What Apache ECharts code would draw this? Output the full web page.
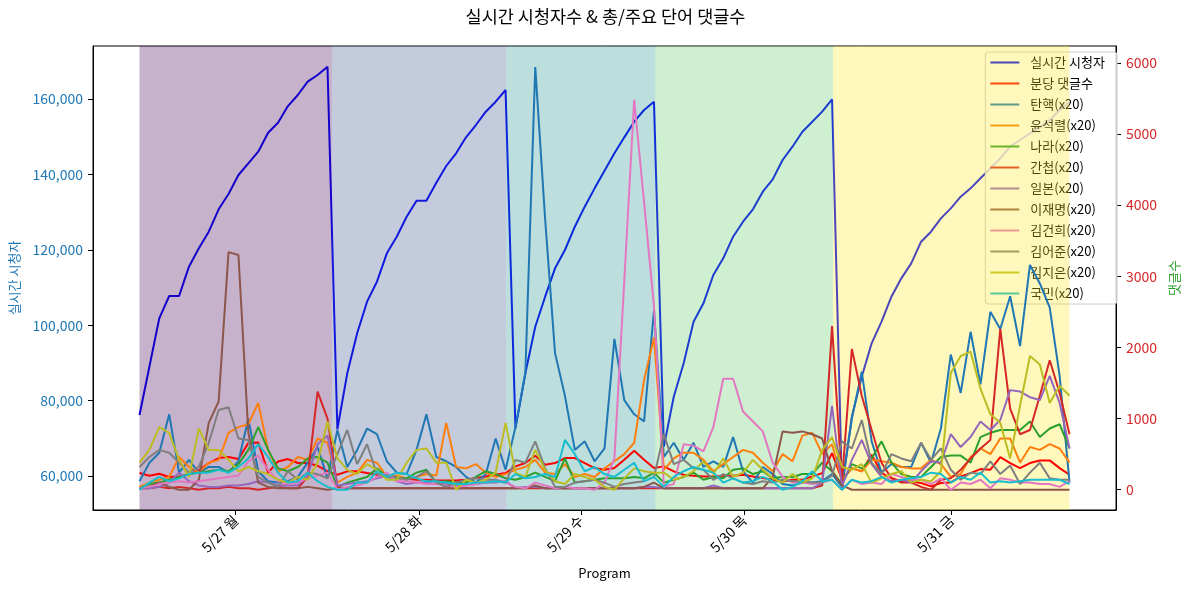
<!DOCTYPE html>
<html><head><meta charset="utf-8">
<script src="https://cdn.jsdelivr.net/npm/echarts@6/dist/echarts.min.js"></script>
<style>html,body{margin:0;padding:0;background:#fff;}#chart{width:1189px;height:593px;}</style>
</head><body><div id="chart"></div>
<script>
// ---- data ----
const dayLabels = ['5/27 월', '5/28 화', '5/29 수', '5/30 목', '5/31 금'];
const dayEdges = [0, 19.45, 37.07, 52.14, 70.1, 94];
const bandColors = ['rgba(68,1,84,0.3)', 'rgba(59,82,139,0.3)', 'rgba(33,145,140,0.3)', 'rgba(94,201,98,0.3)', 'rgba(253,231,37,0.3)'];

const viewers = [
76180,88960,101830,107750,107750,115520,120400,124800,130740,134800,139840,142950,146030,151060,153710,158120,161060,164590,166360,168570,
72390,87240,97850,106240,111540,119060,123480,128780,133030,133030,137800,142230,145590,149830,153100,156640,159290,162390,
72650,87240,99600,107560,115080,119950,126130,131440,136300,140980,145590,149830,153980,157080,159290,
67780,81030,89890,100930,105800,113310,117730,123480,127460,130740,135410,138690,143820,147350,151330,153980,156640,159920,
56730,75730,86340,95190,100930,107560,112430,116410,122150,124800,128340,130990,134090,136300,138960,141610,144270,147350,149120,150890,152480,154430,157080,159290];

const commentsPerMin = [
234,197,225,178,187,211,272,375,445,459,431,656,665,240,398,431,375,375,337,258,
211,258,258,234,211,178,164,155,140,140,131,131,131,140,164,187,211,234,
328,375,478,351,375,445,445,375,304,281,304,421,548,421,304,
328,258,211,197,187,187,197,197,211,187,164,140,117,140,140,187,234,515,
140,304,258,492,234,164,117,117,94,47,94,103,187,234,290,281,459,375,304,375,412,412,304,211];

const kw탄핵 = [
6,19,26,53,12,21,12,16,16,12,20,50,13,6,5,6,9,19,30,8,
42,16,28,43,39,20,12,11,28,53,23,20,16,9,5,11,36,14,
44,82,297,190,96,66,28,34,20,29,106,63,53,48,126,
23,33,21,33,16,20,16,37,13,5,16,11,4,3,5,5,6,11,
2,50,83,34,12,18,16,16,33,19,43,95,68,111,74,125,113,136,101,158,145,128,80,5];
const kw윤석렬 = [
2,5,7,9,23,16,12,19,21,40,44,46,61,28,13,16,23,21,36,33,
5,9,12,21,19,9,10,8,9,11,10,47,16,15,18,12,9,11,
14,16,21,12,11,18,9,11,9,15,20,25,33,77,107,
14,22,26,26,21,13,18,23,28,26,19,13,25,20,38,40,25,32,
7,15,13,21,20,19,16,15,15,21,18,9,11,23,29,25,36,36,19,30,28,32,29,19];
const kw나라 = [
1,4,5,7,9,11,12,13,14,13,18,28,44,28,15,13,16,22,23,19,
2,5,7,9,15,9,8,8,12,14,5,6,5,5,9,13,11,8,
7,9,12,9,6,22,5,6,7,8,8,8,9,8,12,
5,7,9,12,7,9,8,14,15,11,13,8,9,9,11,11,19,13,
4,18,15,22,34,19,11,9,9,16,23,24,24,19,37,40,42,42,42,48,37,43,46,29];
const kw간첩 = [
1,1,2,1,2,1,0,1,1,2,1,1,0,1,2,1,1,9,69,50,
2,1,1,1,1,1,1,1,1,1,1,1,1,1,1,1,1,1,
1,1,1,1,1,1,1,1,1,1,1,1,1,1,1,
1,1,1,1,1,1,1,1,1,1,1,1,1,1,1,1,3,115,
5,99,66,42,19,8,5,5,2,0,7,8,14,22,29,35,113,57,39,42,66,91,68,39];
const kw일본 = [
1,1,2,5,12,6,3,2,2,3,3,4,6,5,3,3,3,10,32,38,
3,4,5,6,8,10,6,4,5,5,4,4,3,3,4,5,5,6,
1,2,2,1,1,1,1,1,1,1,1,1,1,2,2,
1,1,1,1,1,3,1,1,1,1,1,1,1,1,1,1,5,59,
2,21,35,18,9,6,7,5,13,20,19,39,30,37,48,42,49,70,69,65,63,80,61,29];
const kw이재명 = [
1,2,5,2,0,0,7,47,62,167,165,40,5,2,1,1,1,2,1,0,
1,1,1,1,1,1,1,1,1,1,1,1,1,1,1,1,1,1,
1,1,3,1,1,1,1,1,1,1,1,1,1,2,5,
1,1,1,1,1,1,1,1,1,1,1,9,41,40,41,39,36,13,
3,0,0,0,0,0,0,0,0,0,0,0,0,0,0,0,0,0,0,0,0,0,0,0];
const kw김건희 = [
1,2,4,5,6,5,6,7,8,9,10,20,24,14,6,4,5,8,10,12,
0,2,3,5,9,12,6,6,5,4,4,3,2,3,4,5,6,5,
2,1,5,3,1,2,1,1,0,5,22,147,274,202,129,
2,4,32,31,27,44,78,78,55,48,41,19,9,5,5,4,5,7,
0,7,4,5,4,11,9,7,7,4,8,0,5,4,7,1,8,7,5,5,4,4,2,6];
const kw김어준 = [
16,23,28,26,19,12,16,33,56,58,36,35,9,5,2,13,7,12,11,8,
25,42,18,32,11,10,9,7,9,13,5,2,5,7,8,7,7,5,
21,19,34,15,2,2,5,6,7,5,2,4,5,6,9,
39,18,21,15,14,7,11,8,5,4,6,5,7,6,6,5,5,10,
34,29,49,19,11,25,22,20,33,21,29,14,7,12,11,20,11,17,4,12,19,8,7,7];
const kw김지은 = [
19,28,44,40,21,9,43,28,28,21,13,16,13,11,7,5,9,7,19,48,
22,14,11,18,14,7,7,19,28,29,19,19,0,7,5,7,12,47,
12,9,28,14,6,4,11,9,7,2,0,8,15,13,12,
12,7,9,13,20,11,22,9,12,21,14,8,5,11,5,8,28,37,
16,14,18,5,8,11,13,5,7,6,13,82,94,97,71,53,47,22,59,94,88,61,73,66];
const kw국민 = [
0,5,9,6,8,11,12,12,14,12,16,22,32,23,12,5,6,12,6,2,
0,0,5,5,13,9,12,11,8,6,6,5,4,4,5,5,6,5,
11,8,9,11,9,35,25,13,16,11,9,14,19,6,9,
2,9,13,16,14,12,5,8,5,6,9,6,0,2,6,13,6,7,
0,7,5,6,9,5,7,8,9,12,11,5,9,7,12,5,6,5,6,7,7,7,7,4];

const keywordNames = ['탄핵','윤석렬','나라','간첩','일본','이재명','김건희','김어준','김지은','국민'];
const keywordData = [kw탄핵, kw윤석렬, kw나라, kw간첩, kw일본, kw이재명, kw김건희, kw김어준, kw김지은, kw국민];
const keywordScale = 20;
const leftTicks = [60000, 80000, 100000, 120000, 140000, 160000];
const rightTicks = [0, 1000, 2000, 3000, 4000, 5000, 6000];

// ---- chart ----
const FONT = "'Noto Sans CJK KR', 'Noto Sans', sans-serif";
const tab10 = ['#1f77b4','#ff7f0e','#2ca02c','#d62728','#9467bd','#8c564b','#e377c2','#7f7f7f','#bcbd22','#17becf'];
const dayMids = dayLabels.map((_, i) => (dayEdges[i] + dayEdges[i + 1]) / 2);
const lastIdx = viewers.length - 1;
const xpad = lastIdx * 0.05;
const pairs = arr => arr.map((v, i) => [i, v]);
const LW = 2;

const series = [];
series.push({
  name: '실시간 시청자', type: 'line', yAxisIndex: 0, z: 2,
  data: pairs(viewers), symbol: 'none', showSymbol: false,
  lineStyle: { width: LW, color: '#0000ff' }, itemStyle: { color: '#0000ff' }
});
series.push({
  name: '_bands', type: 'custom', yAxisIndex: 1, z: 4, silent: true, clip: true,
  data: dayLabels.map((_, i) => [dayEdges[i], dayEdges[i + 1], i]),
  encode: { x: [0, 1] },
  renderItem: function (params, api) {
    const x0 = api.coord([api.value(0), 0])[0];
    const x1 = api.coord([api.value(1), 0])[0];
    const cs = params.coordSys;
    return { type: 'rect', shape: { x: x0, y: cs.y, width: x1 - x0, height: cs.height },
             style: { fill: bandColors[api.value(2)] } };
  }
});
series.push({
  name: '분당 댓글수', type: 'line', yAxisIndex: 1, z: 5,
  data: pairs(commentsPerMin), symbol: 'none', showSymbol: false,
  lineStyle: { width: LW, color: '#ff0000' }, itemStyle: { color: '#ff0000' }
});
keywordNames.forEach((k, j) => {
  series.push({
    name: k + '(x20)', type: 'line', yAxisIndex: 1, z: 5,
    data: pairs(keywordData[j].map(v => v * keywordScale)), symbol: 'none', showSymbol: false,
    lineStyle: { width: LW, color: tab10[j] }, itemStyle: { color: tab10[j] }
  });
});

const option = {
  animation: false,
  backgroundColor: '#ffffff',
  textStyle: { fontFamily: FONT },
  title: {
    text: '실시간 시청자수 & 총/주요 단어 댓글수', left: 600.5, top: 3, textAlign: 'center',
    padding: 5,
    textStyle: { fontFamily: FONT, fontSize: 17.5, fontWeight: 'normal', color: '#000' }
  },
  legend: {
    z: 3, orient: 'vertical', right: 72, top: 52, align: 'left',
    data: ['실시간 시청자', '분당 댓글수'].concat(keywordNames.map(k => k + '(x20)')),
    itemWidth: 29, itemHeight: 14, itemGap: 8,
    padding: [4, 12, 4, 4],
    itemStyle: { opacity: 0 },
    backgroundColor: 'rgba(255,255,255,0.8)', borderColor: '#cccccc', borderWidth: 1, borderRadius: 3,
    textStyle: { fontFamily: FONT, fontSize: 13, color: '#000', padding: [0, 0, 0, 6] }
  },
  grid: { left: 93, right: 71, top: 46, bottom: 83, show: true, borderColor: '#000', borderWidth: 1, backgroundColor: 'transparent' },
  xAxis: {
    type: 'value', min: -xpad, max: lastIdx + xpad,
    name: 'Program', nameLocation: 'middle', nameGap: 57,
    nameTextStyle: { fontFamily: FONT, fontSize: 13, color: '#000' },
    axisLine: { onZero: false, lineStyle: { color: '#000', width: 1 } },
    axisTick: { customValues: dayMids, length: 5, lineStyle: { color: '#000' } },
    axisLabel: { customValues: dayMids, rotate: 45, margin: 8, fontSize: 14, fontFamily: FONT, color: '#000',
      formatter: v => { const i = dayMids.findIndex(m => Math.abs(m - v) < 1e-6); return i >= 0 ? dayLabels[i] : ''; } },
    splitLine: { show: false }
  },
  yAxis: [
    {
      type: 'value', position: 'left', min: 50980, max: 174060,
      name: '실시간 시청자', nameLocation: 'middle', nameGap: 72, nameRotate: 90,
      nameTextStyle: { fontFamily: FONT, fontSize: 13, color: '#1f77b4' },
      axisLine: { show: true, onZero: false, lineStyle: { color: '#000' } },
      axisTick: { show: true, customValues: leftTicks, length: 5, lineStyle: { color: '#000' } },
      axisLabel: { customValues: leftTicks, margin: 10, fontSize: 14, fontFamily: FONT, color: '#1f77b4',
        formatter: v => Number(v).toLocaleString('en-US') },
      splitLine: { show: false }
    },
    {
      type: 'value', position: 'right', min: -285, max: 6237,
      name: '댓글수', nameLocation: 'middle', nameGap: 47, nameRotate: 90,
      nameTextStyle: { fontFamily: FONT, fontSize: 13, color: '#2ca02c' },
      axisLine: { show: true, onZero: false, lineStyle: { color: '#000' } },
      axisTick: { show: true, customValues: rightTicks, length: 5, lineStyle: { color: '#000' } },
      axisLabel: { customValues: rightTicks, margin: 10, fontSize: 14, fontFamily: FONT, color: '#d62728',
        formatter: v => String(v) },
      splitLine: { show: false }
    }
  ],
  series: series
};
const chart = echarts.init(document.getElementById('chart'), null, { renderer: 'canvas' });
chart.setOption(option);
</script></body></html>
